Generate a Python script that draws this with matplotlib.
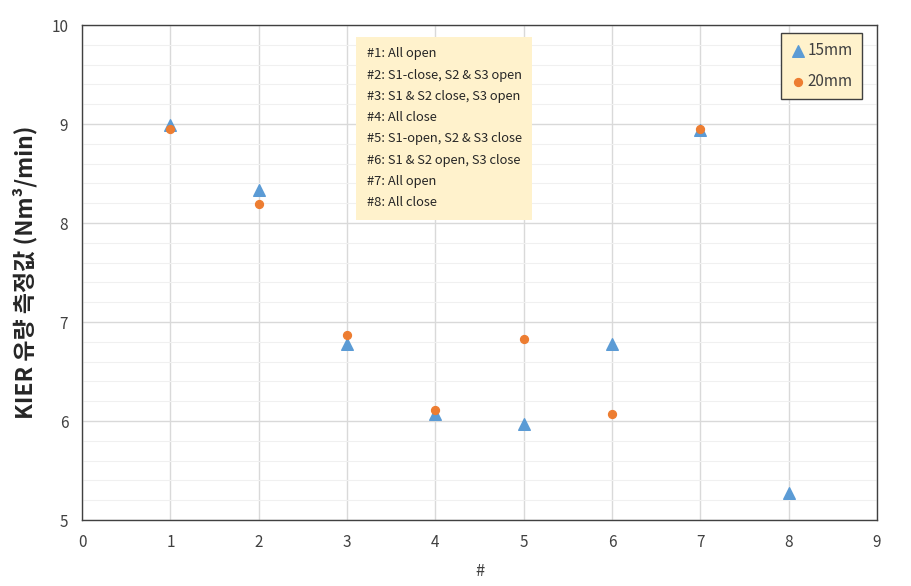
import matplotlib.pyplot as plt
from matplotlib.ticker import MultipleLocator

plt.rcParams['font.family'] = ['Noto Sans CJK KR', 'DejaVu Sans']

# 데이터
case_no = [1, 2, 3, 4, 5, 6, 7, 8]
flow_15mm = [8.99, 8.33, 6.78, 6.07, 5.97, 6.78, 8.94, 5.27]
case_no_20 = [1, 2, 3, 4, 5, 6, 7]
flow_20mm = [8.95, 8.19, 6.87, 6.11, 6.83, 6.07, 8.95]

case_notes = [
    "#1: All open",
    "#2: S1-close, S2 & S3 open",
    "#3: S1 & S2 close, S3 open",
    "#4: All close",
    "#5: S1-open, S2 & S3 close",
    "#6: S1 & S2 open, S3 close",
    "#7: All open",
    "#8: All close",
]

BLUE = '#5B9BD5'
ORANGE = '#ED7D31'

fig = plt.figure(figsize=(9.12, 5.86), dpi=100)
ax = fig.add_axes([0.09, 0.1126, 0.8716, 0.8447])

ax.scatter(case_no, flow_15mm, marker='^', s=70, color=BLUE, label='15mm', zorder=3)
ax.scatter(case_no_20, flow_20mm, marker='o', s=32, color=ORANGE, label='20mm', zorder=4)

ax.set_xlim(0, 9)
ax.set_ylim(5, 10)
ax.xaxis.set_major_locator(MultipleLocator(1))
ax.yaxis.set_major_locator(MultipleLocator(1))
ax.yaxis.set_minor_locator(MultipleLocator(0.2))

# 격자
ax.grid(which='major', color='#D9D9D9', linewidth=1.0, zorder=0)
ax.grid(which='minor', axis='y', color='#F0F0F0', linewidth=0.8, zorder=0)
ax.set_axisbelow(True)

for sp in ax.spines.values():
    sp.set_color('#404040')
    sp.set_linewidth(1.0)

ax.tick_params(which='both', length=0, labelsize=11, colors='#404040', pad=10)

ax.set_xlabel('#', fontsize=12, color='#404040', labelpad=9)
ax.set_ylabel('KIER 유량 측정값 (Nm³/min)', fontsize=16.5, fontweight='bold',
              color='#262626', labelpad=10)

# 설명 박스
ax.text(0.358, 0.955, "\n".join(case_notes), transform=ax.transAxes,
        fontsize=9.3, color='#262626', va='top', ha='left', linespacing=1.83,
        bbox=dict(boxstyle='square,pad=0.8', facecolor='#FFF2CC', edgecolor='none'))

leg = ax.legend(loc='upper right', bbox_to_anchor=(0.981, 0.984), fontsize=11,
                frameon=True, fancybox=False, handletextpad=0.1, borderaxespad=0,
                labelspacing=0.9, borderpad=0.6, handlelength=1.0)
leg.get_frame().set_facecolor('#FFF2CC')
leg.get_frame().set_edgecolor('#404040')
leg.get_frame().set_alpha(1.0)
for t in leg.get_texts():
    t.set_color('#404040')

fig.savefig('out.png', dpi=100)
